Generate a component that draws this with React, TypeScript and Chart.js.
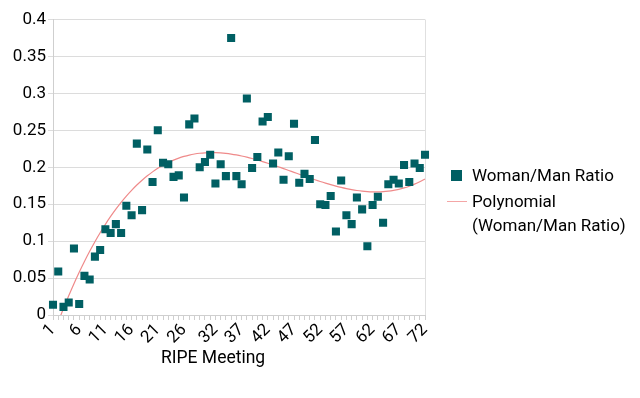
import React, { useEffect, useRef } from "react";
import { Chart, registerables } from "chart.js";

Chart.register(...registerables);

const meetings = [
  "1", "2", "3", "4", "5", "6", "7", "8", "9", "10", "11", "12",
  "13", "14", "15", "16", "17", "18", "19", "20", "21", "22", "23", "24",
  "25", "26", "27", "28", "29", "30", "31", "32", "33", "34", "35", "36",
  "37", "38", "39", "40", "41", "42", "43", "44", "45", "46", "47", "48",
  "49", "50", "51", "52", "53", "54", "55", "56", "57", "58", "59", "60",
  "61", "62", "63", "64", "65", "66", "67", "68", "69", "70", "71", "72",
];

const ratio = [
  0.014, 0.059, 0.011, 0.017, 0.09, 0.015, 0.053, 0.048, 0.079, 0.088, 0.116, 0.111,
  0.123, 0.111, 0.148, 0.135, 0.232, 0.142, 0.224, 0.18, 0.25, 0.206, 0.204, 0.187,
  0.189, 0.159, 0.258, 0.266, 0.2, 0.207, 0.217, 0.178, 0.204, 0.188, 0.375, 0.188,
  0.177, 0.293, 0.199, 0.214, 0.262, 0.268, 0.205, 0.22, 0.183, 0.215, 0.259, 0.179,
  0.191, 0.184, 0.237, 0.15, 0.149, 0.161, 0.113, 0.182, 0.135, 0.123, 0.159, 0.143,
  0.093, 0.149, 0.16, 0.125, 0.177, 0.183, 0.178, 0.203, 0.18, 0.205, 0.199, 0.217,
];

const shownLabels = ["1", "6", "11", "16", "21", "26", "32", "37", "42", "47", "52", "57", "62", "67", "72"];

const yTicks = [0, 0.05, 0.1, 0.15, 0.2, 0.25, 0.3, 0.35, 0.4];

const polyDegree = 3;

// least-squares polynomial trend line fitted to the series
function polyFit(ys: number[], degree: number): number[] {
  const n = ys.length;
  const m = degree + 1;
  const xs = ys.map((_, i) => (i - (n - 1) / 2) / ((n - 1) / 2));
  const A: number[][] = [];
  for (let r = 0; r < m; r++) {
    const row: number[] = [];
    for (let c = 0; c < m; c++) {
      let s = 0;
      for (let i = 0; i < n; i++) s += Math.pow(xs[i], r + c);
      row.push(s);
    }
    let t = 0;
    for (let i = 0; i < n; i++) t += ys[i] * Math.pow(xs[i], r);
    row.push(t);
    A.push(row);
  }
  for (let p = 0; p < m; p++) {
    let best = p;
    for (let r = p + 1; r < m; r++) if (Math.abs(A[r][p]) > Math.abs(A[best][p])) best = r;
    [A[p], A[best]] = [A[best], A[p]];
    for (let r = 0; r < m; r++) {
      if (r === p) continue;
      const f = A[r][p] / A[p][p];
      for (let c = p; c <= m; c++) A[r][c] -= f * A[p][c];
    }
  }
  const coef = A.map((row, i) => row[m] / row[i]);
  return xs.map((x) => coef.reduce((s, c, k) => s + c * Math.pow(x, k), 0));
}

const FONT = "Roboto";

export default function App() {
  const ref = useRef<HTMLCanvasElement | null>(null);

  useEffect(() => {
    if (!ref.current) return;
    const trend = polyFit(ratio, polyDegree);
    const chart = new Chart(ref.current, {
      type: "line",
      data: {
        labels: meetings,
        datasets: [
          {
            label: "Woman/Man Ratio",
            data: ratio,
            showLine: false,
            pointStyle: "rect",
            pointRadius: 5.7,
            pointHoverRadius: 5.7,
            backgroundColor: "#005f63",
            borderColor: "#005f63",
            borderWidth: 0,
            order: 1,
          },
          {
            label: "Polynomial (Woman/Man Ratio)",
            data: trend,
            borderColor: "#ef8a8a",
            borderWidth: 1.2,
            pointRadius: 0,
            tension: 0.4,
            order: 2,
          },
        ],
      },
      options: {
        animation: false,
        responsive: false,
        layout: { padding: { left: 0, right: 215, top: 19.5, bottom: 0 } },
        plugins: { legend: { display: false }, tooltip: { enabled: false } },
        scales: {
          x: {
            type: "category",
            offset: false,
            grid: {
              drawOnChartArea: true,
              color: (ctx: any) => (ctx.index === meetings.length - 1 ? "#e0e0e0" : "rgba(0,0,0,0)"),
              tickColor: "#cfcfcf",
              tickLength: 5,
            },
            border: { color: "#cfcfcf" },
            ticks: {
              autoSkip: false,
              maxRotation: 45,
              minRotation: 45,
              color: "#000",
              font: { family: FONT, size: 17 },
              padding: 0,
              callback: (_v: any, i: number) => (shownLabels.includes(meetings[i]) ? meetings[i] : ""),
            },
            afterFit: (scale: any) => {
              scale.height = 83;
            },
          },
          y: {
            min: 0,
            max: 0.4,
            afterBuildTicks: (scale: any) => {
              scale.ticks = yTicks.map((v) => ({ value: v }));
            },
            grid: { color: "#dcdcdc", tickLength: 5, tickColor: "#dcdcdc" },
            border: { color: "#cfcfcf" },
            ticks: {
              color: "#000",
              font: { family: FONT, size: 17 },
              padding: 2,
              callback: (v: any) => String(Number(Number(v).toFixed(2))),
            },
            afterFit: (scale: any) => {
              scale.width = 53;
            },
          },
        },
      },
    });
    return () => chart.destroy();
  }, []);

  const text: React.CSSProperties = {
    position: "absolute",
    fontFamily: FONT,
    fontSize: 17,
    color: "#000",
    whiteSpace: "nowrap",
    lineHeight: "20px",
  };

  return (
    <div style={{ position: "absolute", left: 0, top: 0, width: 640, height: 398, background: "#fff" }}>
      <canvas ref={ref} width={640} height={398} style={{ display: "block" }} />
      <div style={{ position: "absolute", left: 451, top: 169.5, width: 11, height: 11, background: "#005f63" }} />
      <div style={{ ...text, left: 472, top: 165.2 }}>Woman/Man Ratio</div>
      <div style={{ position: "absolute", left: 447, top: 200.5, width: 20, height: 1.5, background: "#f4a6a6" }} />
      <div style={{ ...text, left: 472, top: 190, lineHeight: "23.5px" }}>
        Polynomial
        <br />
        (Woman/Man Ratio)
      </div>
      <div style={{ ...text, left: 161, top: 346.5, fontSize: 17.5 }}>RIPE Meeting</div>
    </div>
  );
}
